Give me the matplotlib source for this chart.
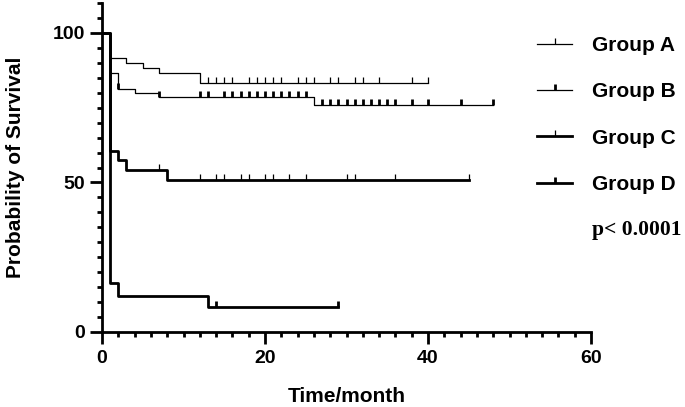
import numpy as np
import matplotlib
import matplotlib.pyplot as plt
from matplotlib.lines import Line2D
from matplotlib.path import Path
from matplotlib.ticker import MultipleLocator

matplotlib.use('Agg')

# 各组生存曲线：事件时间 / 生存率(%) / 随访结束 / 删失时间
months_a = [0, 1, 3, 5, 7, 12]
surv_a = [100, 91.5, 89.9, 88.2, 86.5, 83.3]
end_a = 40
cens_a = [13, 14, 15, 16, 18, 19, 20, 21, 22, 24, 25, 26, 28, 29, 31, 32, 34, 38, 40]

months_b = [0, 1, 2, 4, 7, 26]
surv_b = [100, 86.5, 81.3, 79.8, 78.7, 75.9]
end_b = 48
cens_b = [2, 7, 12, 13, 15, 16, 17, 18, 19, 20, 21, 22, 23, 24, 25,
          27, 28, 29, 30, 31, 32, 33, 34, 35, 36, 38, 40, 44, 48]

months_c = [0, 1, 2, 3, 8]
surv_c = [100, 60.6, 57.6, 54.3, 50.9]
end_c = 45
cens_c = [7, 12, 14, 15, 17, 18, 20, 21, 23, 25, 30, 31, 36, 45]

months_d = [0, 1, 2, 13]
surv_d = [100, 16.3, 12.1, 8.3]
end_d = 29
cens_d = [14, 29]

labels = ['Group A', 'Group B', 'Group C', 'Group D']
p_text = 'p< 0.0001'

# 删失标记：从曲线向上的短竖线
tick = Path([(0, 0), (0, 1)], [Path.MOVETO, Path.LINETO])

styles = [
    dict(lw=0.9, mew=0.9),   # A 细线 细标记
    dict(lw=0.9, mew=2.0),   # B 细线 粗标记
    dict(lw=2.0, mew=0.9),   # C 粗线 细标记
    dict(lw=2.0, mew=2.0),   # D 粗线 粗标记
]
groups = [(months_a, surv_a, end_a, cens_a),
          (months_b, surv_b, end_b, cens_b),
          (months_c, surv_c, end_c, cens_c),
          (months_d, surv_d, end_d, cens_d)]

plt.rcParams['font.family'] = ['Liberation Sans', 'DejaVu Sans']
plt.rcParams['font.weight'] = 'bold'

fig = plt.figure(figsize=(6.85, 4.07), dpi=100)
ax = fig.add_axes([102 / 685, 1 - 332 / 407, 489 / 685, 329 / 407])

handles = []
for (m, s, e, c), st in zip(groups, styles):
    xs = list(m) + [e]
    ys = list(s) + [s[-1]]
    ax.step(xs, ys, where='post', color='black', lw=st['lw'])
    idx = np.searchsorted(m, c, side='right') - 1
    ax.plot(c, np.array(s)[idx], linestyle='none', color='black',
            marker=tick, markersize=8.2, markeredgewidth=st['mew'])
    handles.append(Line2D([], [], color='black', lw=st['lw'], marker=tick,
                          markersize=8.2, markeredgewidth=st['mew']))

ax.set_xlim(0, 60)
ax.set_ylim(0, 110)
ax.xaxis.set_major_locator(MultipleLocator(20))
ax.xaxis.set_minor_locator(MultipleLocator(2))
ax.set_yticks([0, 50, 100])
ax.yaxis.set_minor_locator(MultipleLocator(5))

for sp in ['top', 'right']:
    ax.spines[sp].set_visible(False)
for sp in ['left', 'bottom']:
    ax.spines[sp].set_linewidth(2.0)
ax.tick_params(which='major', length=8.5, width=2.0, labelsize=14, pad=3.5)
ax.tick_params(which='minor', length=3.8, width=2.0)
ax.tick_params(axis='x', which='major', pad=4.5)

ax.set_xlabel('Time/month', fontsize=15, fontweight='bold')
ax.set_ylabel('Probability of Survival', fontsize=15, fontweight='bold')
ax.xaxis.set_label_coords(0.5, (332 - 387) / 329)
ax.yaxis.set_label_coords((25 - 102) / 489, 0.5)

leg = fig.legend(handles, labels, loc='upper left', frameon=False,
                 bbox_to_anchor=(537 / 685, 1 - 36 / 407),
                 borderpad=0, borderaxespad=0, handlelength=1.68,
                 handletextpad=0.95, labelspacing=1.31,
                 prop=dict(size=15, weight='bold'))

fig.text(592 / 685, 1 - 230 / 407, p_text, fontsize=15.5, fontweight='bold',
         family=['Liberation Serif', 'DejaVu Serif'], va='center', ha='left')

plt.savefig('out.png', dpi=100)
